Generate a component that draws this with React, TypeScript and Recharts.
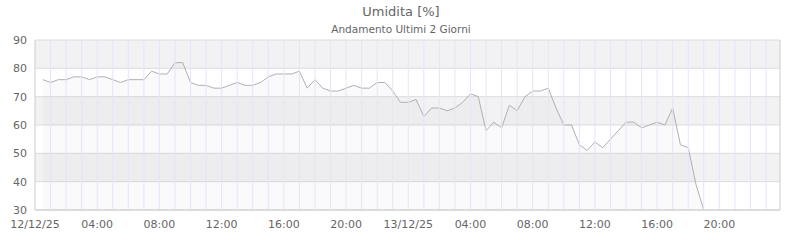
import { Area, CartesianGrid, ComposedChart, ReferenceLine, XAxis, YAxis } from "recharts";

// humidity readings every 30 min, starting 12/12/25 00:30
const startHour = 0.5;
const stepHours = 0.5;
const humidity = [
  76, 75, 76, 76, 77, 77, 76, 77, 77, 76, 75, 76, 76, 76, 79, 78, 78, 82, 82, 75, 74, 74, 73, 73,
  74, 75, 74, 74, 75, 77, 78, 78, 78, 79, 73, 76, 73, 72, 72, 73, 74, 73, 73, 75, 75, 72, 68, 68,
  69, 63, 66, 66, 65, 66, 68, 71, 70, 58, 61, 59, 67, 65, 70, 72, 72, 73, 66, 60, 60, 53, 51, 54,
  52, 55, 58, 61, 61, 59, 60, 61, 60, 66, 53, 52, 39, 30,
];

const xTicks = [0, 4, 8, 12, 16, 20, 24, 28, 32, 36, 40, 44];
const xTickLabels = [
  "12/12/25", "04:00", "08:00", "12:00", "16:00", "20:00",
  "13/12/25", "04:00", "08:00", "12:00", "16:00", "20:00",
];
const yTicks = [30, 40, 50, 60, 70, 80, 90];
const xMax = 47.9;
const hourLines = Array.from({ length: 47 }, (_, i) => i + 1);

const data = humidity.map((v, i) => ({ h: startHour + i * stepHours, v }));

const FONT = "'DejaVu Sans', sans-serif";
const tickStyle = { fontSize: 11, fill: "#666", fontFamily: FONT };

export default function App() {
  return (
    <div style={{ position: "relative", width: 800, height: 240, background: "#fff" }}>
      <style>{`body{margin:0}`}</style>
      <ComposedChart width={800} height={240} data={data} margin={{ top: 40, right: 20, bottom: 0, left: 0 }}>
        <CartesianGrid vertical={false} stroke="#dcdcdc" horizontalFill={["#f2f2f2", "#ffffff"]} />
        {hourLines.map((h) => (
          <ReferenceLine key={h} x={h} stroke="#e4e4fa" />
        ))}
        <ReferenceLine x={xMax} stroke="#cccccc" />
        <XAxis
          dataKey="h"
          type="number"
          domain={[0, xMax]}
          ticks={xTicks}
          interval={0}
          tickFormatter={(_v, i) => xTickLabels[i]}
          tick={tickStyle}
          tickLine={false}
          tickSize={10}
          tickMargin={0}
          axisLine={{ stroke: "#cccccc" }}
          height={30}
        />
        <YAxis
          type="number"
          domain={[30, 90]}
          ticks={yTicks}
          interval={0}
          tick={tickStyle}
          tickLine={false}
          tickSize={8}
          tickMargin={0}
          axisLine={{ stroke: "#cccccc" }}
          width={35}
        />
        <Area
          type="linear"
          dataKey="v"
          stroke="#b0b0b0"
          strokeWidth={1}
          fill="#000000"
          fillOpacity={0.02}
          dot={false}
          activeDot={false}
          isAnimationActive={false}
        />
      </ComposedChart>
      <svg width={800} height={40} style={{ position: "absolute", left: 0, top: 0, pointerEvents: "none" }}>
        <text x={401} y={16} textAnchor="middle" fontFamily={FONT} fontSize={13} fill="#666">
          Umidita [%]
        </text>
        <text x={401} y={33} textAnchor="middle" fontFamily={FONT} fontSize={10.5} fill="#666">
          Andamento Ultimi 2 Giorni
        </text>
      </svg>
    </div>
  );
}
